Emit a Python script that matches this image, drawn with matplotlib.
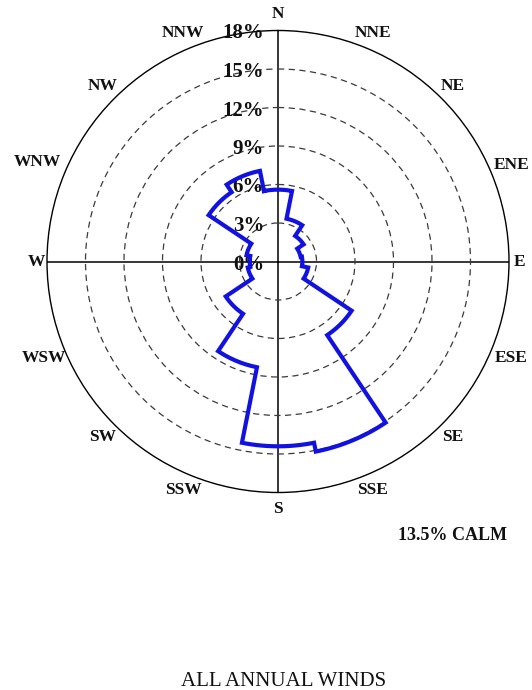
import numpy as np
import matplotlib
matplotlib.use("Agg")
import matplotlib.pyplot as plt
from matplotlib.transforms import offset_copy

# Wind direction sectors and frequency of occurrence (%)
directions = ["N", "NNE", "NE", "ENE", "E", "ESE", "SE", "SSE",
              "S", "SSW", "SW", "WSW", "W", "WNW", "NW", "NNW"]
frequency = [5.6, 3.4, 2.4, 1.8, 1.9, 2.4, 6.9, 15.1,
             14.4, 8.4, 4.9, 2.4, 2.2, 2.5, 6.5, 7.2]

ring_values = [0, 3, 6, 9, 12, 15, 18]
ring_labels = ["0%", "3%", "6%", "9%", "12%", "15%", "18%"]
calm_text = "13.5% CALM"
title_text = "ALL ANNUAL WINDS"

plt.rcParams["font.family"] = ["Liberation Serif", "DejaVu Serif"]
plt.rcParams["lines.scale_dashes"] = False

W, H = 532, 690
fig = plt.figure(figsize=(W / 100, H / 100), dpi=100)
fig.patch.set_facecolor("white")

cx, cy, rad = 278, 261.5, 231
ax = fig.add_axes([(cx - rad) / W, (H - cy - rad) / H, 2 * rad / W, 2 * rad / H],
                  projection="polar")
ax.set_theta_zero_location("N")
ax.set_theta_direction(-1)
ax.set_ylim(0, max(ring_values))

# compass cross and dashed percentage rings
ax.set_xticks(np.deg2rad([0, 90, 180, 270]))
ax.set_xticklabels([])
ax.set_yticks(ring_values[1:-1])
ax.set_yticklabels([])
ax.tick_params(length=0)
ax.xaxis.grid(True, color="black", linewidth=1.1, linestyle="-")
ax.yaxis.grid(True, color="#3a3a3a", linewidth=0.9, linestyle=(0, (4.5, 3.2)))
ax.spines["polar"].set_linewidth(1.0)
ax.spines["polar"].set_color("black")

# stepped rose outline: an arc per sector joined by radial steps
n = len(directions)
width = 2 * np.pi / n
centers = np.arange(n) * width
theta_parts, r_parts = [], []
for c, v in zip(centers, frequency):
    t = np.linspace(c - width / 2, c + width / 2, 16)
    theta_parts.append(t)
    r_parts.append(np.full_like(t, v))
theta_parts.append(np.array([2 * np.pi - width / 2]))
r_parts.append(np.array([frequency[0]]))
theta = np.concatenate(theta_parts)
r = np.concatenate(r_parts)
ax.plot(theta, r, color="#1212e0", linewidth=3.0, solid_joinstyle="miter",
        zorder=5, clip_on=False)

# ring percentage labels along the north axis
lab_tr = offset_copy(ax.transData, fig=fig, x=-14, y=-3, units="dots")
for v, lab in zip(ring_values, ring_labels):
    ax.text(0, v, lab, transform=lab_tr, ha="right", va="center",
            fontsize=15, fontweight="bold", color="#111111", zorder=4)

# compass point labels around the outer circle
for i, (c, d) in enumerate(zip(centers, directions)):
    rl = 19.3
    if i % 8 == 4:
        rl = 18.8
    elif i % 8 in (3, 5):
        rl = 19.7
    if d == "WNW":
        rl = 20.3
    ax.text(c, rl, d, ha="center", va="center", fontsize=12.5,
            fontweight="bold", color="#111111", clip_on=False)

fig.text(453 / W, 1 - 535 / H, calm_text, ha="center", va="center",
         fontsize=13, fontweight="bold", color="#111111")
fig.text(284 / W, 1 - 682 / H, title_text, ha="center", va="center",
         fontsize=15, color="#111111")

fig.savefig("out.png", dpi=100, facecolor="white")
